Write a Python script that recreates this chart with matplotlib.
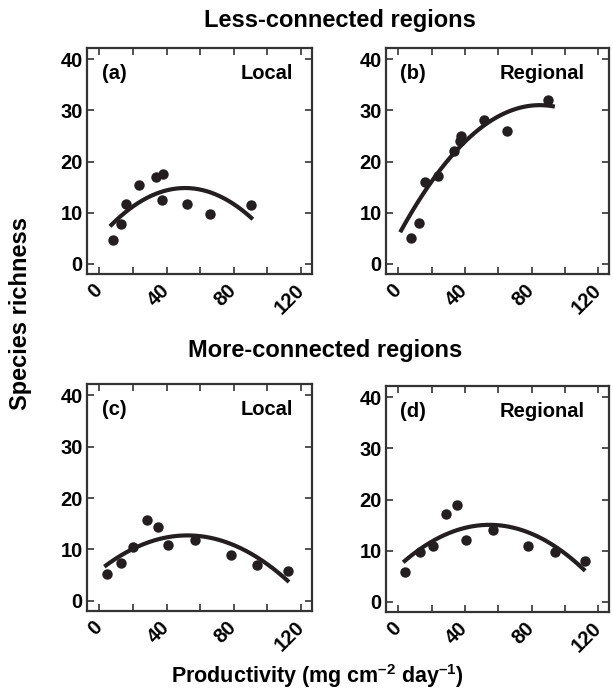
import numpy as np
import matplotlib.pyplot as plt
import matplotlib.transforms as mtransforms

plt.rcParams['font.family'] = ['Liberation Sans', 'DejaVu Sans']
plt.rcParams['font.weight'] = 'bold'
plt.rcParams['mathtext.fontset'] = 'custom'
plt.rcParams['mathtext.rm'] = 'Liberation Sans:bold'
plt.rcParams['mathtext.bf'] = 'Liberation Sans:bold'

ink = '#231f20'

# productivity (mg cm-2 day-1) and species richness
a_x = [8.0, 12.8, 15.9, 23.9, 34.0, 37.8, 37.2, 51.9, 65.7, 90.1]
a_y = [4.7, 7.8, 11.6, 15.4, 17.0, 17.6, 12.5, 11.6, 9.7, 11.4]

b_x = [7.9, 12.7, 15.8, 23.9, 33.4, 36.8, 37.6, 51.6, 65.2, 89.7]
b_y = [5.0, 8.0, 16.0, 17.1, 22.1, 24.1, 25.0, 28.1, 26.0, 32.1]

c_x = [4.4, 12.9, 20.2, 28.5, 35.2, 40.6, 57.0, 78.2, 94.0, 112.4]
c_y = [5.2, 7.4, 10.4, 15.7, 14.4, 10.9, 11.9, 8.9, 7.0, 5.7]

d_x = [4.1, 12.9, 20.6, 28.7, 35.2, 40.9, 56.9, 78.0, 93.9, 112.2]
d_y = [5.9, 9.8, 10.9, 17.1, 19.0, 12.0, 14.0, 10.9, 9.8, 8.0]

# panel (b)'s printed line is not the plain least-squares fit of the dots,
# so it is taken from points
b_line_x = [1.2, 15.4, 24.3, 35.2, 51.0, 64.8, 78.6, 94.0]
b_line_y = [6.6, 13.7, 17.3, 22.2, 27.2, 30.0, 30.9, 30.5]

# x extent of the fitted quadratic lines
fit_range = {'a': (6.4, 91.3), 'b': (1.2, 94.0), 'c': (3.0, 112.8), 'd': (3.0, 112.2)}

x_ticks = [0, 20, 40, 60, 80, 100, 120]
x_labels = ['0', '', '40', '', '80', '', '120']
y_ticks = [0, 10, 20, 30, 40]

panels = [
    ('a', 'Local', a_x, a_y, a_x, a_y),
    ('b', 'Regional', b_x, b_y, b_line_x, b_line_y),
    ('c', 'Local', c_x, c_y, c_x, c_y),
    ('d', 'Regional', d_x, d_y, d_x, d_y),
]

W, H = 613, 691
fig = plt.figure(figsize=(W / 100, H / 100), dpi=100)

boxes = {
    'a': (87, 48, 312, 274),
    'b': (386, 48, 609, 274),
    'c': (87, 384, 312, 611),
    'd': (386, 386, 609, 612),
}
label_right = {'Local': 0.915, 'Regional': 0.892}
nudge = mtransforms.ScaledTranslation(2 / 100, 0, fig.dpi_scale_trans)

for tag, scale, xs, ys, fx, fy in panels:
    l, t, r, b = boxes[tag]
    ax = fig.add_axes([l / W, 1 - b / H, (r - l) / W, (b - t) / H])

    coef = np.polyfit(fx, fy, 2)
    lo, hi = fit_range[tag]
    xx = np.linspace(lo, hi, 200)
    ax.plot(xx, np.polyval(coef, xx), color=ink, lw=3.0, solid_capstyle='butt', zorder=2)
    ax.plot(xs, ys, 'o', color=ink, ms=7.5, mec='none', zorder=3)

    ax.set_xlim(-7.3, 126.5)
    ax.set_ylim(-2.0, 42.2)
    ax.set_xticks(x_ticks)
    ax.set_xticklabels(x_labels, rotation=45, ha='right', va='center',
                       rotation_mode='anchor')
    for lab in ax.get_xticklabels():
        lab.set_transform(lab.get_transform() + nudge)
    ax.set_yticks(y_ticks)
    ax.tick_params(direction='in', top=True, right=True, length=5, width=1.2,
                   color='#333333', labelsize=14.5)
    ax.tick_params(axis='x', pad=9.5)
    ax.tick_params(axis='y', pad=3)
    for s in ax.spines.values():
        s.set_linewidth(1.6)
        s.set_color('#333333')

    ax.text(0.065, 0.887, '(%s)' % tag, transform=ax.transAxes, fontsize=14.5,
            fontweight='bold', ha='left', va='center')
    ax.text(label_right[scale], 0.887, scale, transform=ax.transAxes, fontsize=14.5,
            fontweight='bold', ha='right', va='center')

fig.text(340 / W, 1 - 20 / H, 'Less-connected regions', fontsize=17,
         fontweight='bold', ha='center', va='center')
fig.text(325 / W, 1 - 350 / H, 'More-connected regions', fontsize=17,
         fontweight='bold', ha='center', va='center')
fig.text(21 / W, 1 - 313 / H, 'Species richness', fontsize=17, rotation=90,
         fontweight='bold', ha='center', va='center')
fig.text(317 / W, 1 - 676 / H, 'Productivity (mg cm$^{\u2013\\mathbf{2}}$ day$^{\u2013\\mathbf{1}}$)',
         fontsize=15.5, fontweight='bold', ha='center', va='center')

fig.savefig('out.png', dpi=100)
